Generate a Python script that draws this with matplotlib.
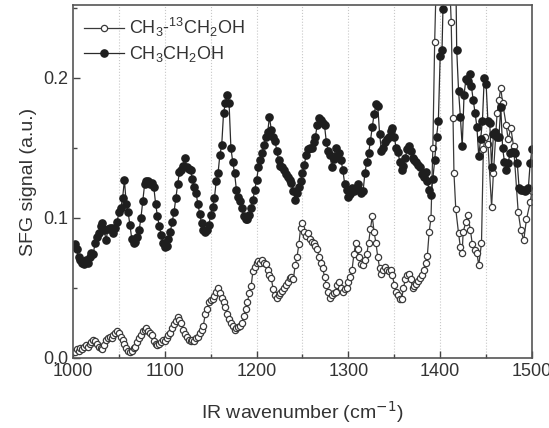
import numpy as np
import matplotlib
matplotlib.use("Agg")
import matplotlib.pyplot as plt
from matplotlib.ticker import MultipleLocator, FormatStrFormatter

plt.rcParams['font.family'] = ['Liberation Sans', 'DejaVu Sans']

# CH3CH2OH (filled circles), wavenumber in cm^-1
wn_12c = [1000, 1002, 1004, 1006, 1008, 1010, 1012, 1014, 1016, 1018, 1020, 1022, 1024, 1026, 1028,
          1030, 1032, 1034, 1036, 1038, 1040, 1042, 1044, 1046, 1048, 1050, 1052, 1054, 1056, 1058,
          1060, 1062, 1064, 1066, 1068, 1070, 1072, 1074, 1076, 1078, 1080, 1082, 1084, 1086, 1088,
          1090, 1092, 1094, 1096, 1098, 1100, 1102, 1104, 1106, 1108, 1110, 1112, 1114, 1116, 1118,
          1120, 1122, 1124, 1126, 1128, 1130, 1132, 1134, 1136, 1138, 1140, 1142, 1144, 1146, 1148,
          1150, 1152, 1154, 1156, 1158, 1160, 1162, 1164, 1166, 1168, 1170, 1172, 1174, 1176, 1178,
          1180, 1182, 1184, 1186, 1188, 1190, 1192, 1194, 1196, 1198, 1200, 1202, 1204, 1206, 1208,
          1210, 1212, 1214, 1216, 1218, 1220, 1222, 1224, 1226, 1228, 1230, 1232, 1234, 1236, 1238,
          1240, 1242, 1244, 1246, 1248, 1250, 1252, 1254, 1256, 1258, 1260, 1262, 1264, 1266, 1268,
          1270, 1272, 1274, 1276, 1278, 1280, 1282, 1284, 1286, 1288, 1290, 1292, 1294, 1296, 1298,
          1300, 1302, 1304, 1306, 1308, 1310, 1312, 1314, 1316, 1318, 1320, 1322, 1324, 1326, 1328,
          1330, 1332, 1334, 1336, 1338, 1340, 1342, 1344, 1346, 1348, 1350, 1352, 1354, 1356, 1358,
          1360, 1362, 1364, 1366, 1368, 1370, 1372, 1374, 1376, 1378, 1380, 1382, 1384, 1386, 1388,
          1390, 1392, 1394, 1396, 1398, 1400, 1402, 1403, 1408, 1416, 1418, 1420, 1422, 1424, 1426,
          1428, 1430, 1432, 1434, 1436, 1438, 1440, 1442, 1444, 1446, 1448, 1450, 1452, 1454, 1456,
          1458, 1460, 1462, 1464, 1466, 1468, 1470, 1472, 1474, 1476, 1478, 1480, 1482, 1484, 1486,
          1488, 1490, 1492, 1494, 1496, 1498, 1500]
sig_12c = [0.080, 0.081, 0.078, 0.072, 0.070, 0.068, 0.067, 0.070, 0.068, 0.072, 0.075, 0.074, 0.082, 0.086, 0.089,
           0.094, 0.096, 0.091, 0.084, 0.092, 0.093, 0.093, 0.089, 0.093, 0.097, 0.104, 0.107, 0.114, 0.127, 0.110,
           0.104, 0.095, 0.085, 0.082, 0.083, 0.086, 0.091, 0.100, 0.112, 0.124, 0.126, 0.126, 0.124, 0.125, 0.122,
           0.110, 0.101, 0.094, 0.088, 0.082, 0.079, 0.080, 0.085, 0.090, 0.097, 0.104, 0.114, 0.124, 0.133, 0.134,
           0.137, 0.143, 0.136, 0.135, 0.134, 0.128, 0.122, 0.118, 0.110, 0.103, 0.096, 0.091, 0.090, 0.091, 0.095,
           0.102, 0.108, 0.114, 0.126, 0.132, 0.145, 0.152, 0.175, 0.182, 0.188, 0.182, 0.150, 0.140, 0.132, 0.120,
           0.115, 0.112, 0.107, 0.101, 0.099, 0.099, 0.102, 0.107, 0.113, 0.120, 0.127, 0.136, 0.141, 0.146, 0.152,
           0.158, 0.161, 0.172, 0.163, 0.158, 0.155, 0.148, 0.141, 0.137, 0.136, 0.134, 0.131, 0.129, 0.127, 0.125,
           0.119, 0.113, 0.118, 0.122, 0.126, 0.132, 0.138, 0.145, 0.149, 0.150, 0.150, 0.154, 0.158, 0.166, 0.171,
           0.170, 0.168, 0.166, 0.154, 0.148, 0.145, 0.136, 0.142, 0.150, 0.144, 0.146, 0.141, 0.134, 0.124, 0.120,
           0.115, 0.117, 0.121, 0.119, 0.121, 0.124, 0.120, 0.118, 0.119, 0.132, 0.140, 0.146, 0.155, 0.165, 0.174,
           0.181, 0.180, 0.160, 0.148, 0.150, 0.154, 0.156, 0.158, 0.162, 0.164, 0.158, 0.150, 0.147, 0.140, 0.134,
           0.137, 0.143, 0.149, 0.151, 0.148, 0.143, 0.141, 0.140, 0.138, 0.136, 0.131, 0.129, 0.133, 0.126, 0.120,
           0.116, 0.128, 0.141, 0.158, 0.169, 0.216, 0.220, 0.249, 0.320, 0.330, 0.220, 0.191, 0.172, 0.151, 0.188,
           0.199, 0.198, 0.203, 0.194, 0.184, 0.175, 0.165, 0.144, 0.156, 0.169, 0.200, 0.196, 0.169, 0.168, 0.136,
           0.160, 0.161, 0.158, 0.158, 0.179, 0.150, 0.140, 0.134, 0.139, 0.146, 0.147, 0.147, 0.146, 0.139, 0.121,
           0.120, 0.120, 0.119, 0.120, 0.121, 0.139, 0.149]

# CH3-13CH2OH (open circles)
wn_13c = [1000, 1002, 1004, 1006, 1008, 1010, 1012, 1014, 1016, 1018, 1020, 1022, 1024, 1026, 1028,
          1030, 1032, 1034, 1036, 1038, 1040, 1042, 1044, 1046, 1048, 1050, 1052, 1054, 1056, 1058,
          1060, 1062, 1064, 1066, 1068, 1070, 1072, 1074, 1076, 1078, 1080, 1082, 1084, 1086, 1088,
          1090, 1092, 1094, 1096, 1098, 1100, 1102, 1104, 1106, 1108, 1110, 1112, 1114, 1116, 1118,
          1120, 1122, 1124, 1126, 1128, 1130, 1132, 1134, 1136, 1138, 1140, 1142, 1144, 1146, 1148,
          1150, 1152, 1154, 1156, 1158, 1160, 1162, 1164, 1166, 1168, 1170, 1172, 1174, 1176, 1178,
          1180, 1182, 1184, 1186, 1188, 1190, 1192, 1194, 1196, 1198, 1200, 1202, 1204, 1206, 1208,
          1210, 1212, 1214, 1216, 1218, 1220, 1222, 1224, 1226, 1228, 1230, 1232, 1234, 1236, 1238,
          1240, 1242, 1244, 1246, 1248, 1250, 1252, 1254, 1256, 1258, 1260, 1262, 1264, 1266, 1268,
          1270, 1272, 1274, 1276, 1278, 1280, 1282, 1284, 1286, 1288, 1290, 1292, 1294, 1296, 1298,
          1300, 1302, 1304, 1306, 1308, 1310, 1312, 1314, 1316, 1318, 1320, 1322, 1324, 1326, 1328,
          1330, 1332, 1334, 1336, 1338, 1340, 1342, 1344, 1346, 1348, 1350, 1352, 1354, 1356, 1358,
          1360, 1362, 1364, 1366, 1368, 1370, 1372, 1374, 1376, 1378, 1380, 1382, 1384, 1386, 1388,
          1390, 1392, 1394, 1398, 1406, 1412, 1414, 1415, 1417, 1420, 1422, 1424, 1425, 1428, 1430,
          1433, 1435, 1438, 1440, 1442, 1445, 1447, 1449, 1452, 1456, 1458, 1462, 1464, 1466, 1468,
          1472, 1474, 1477, 1480, 1485, 1488, 1491, 1494, 1498, 1500]
sig_13c = [0.004, 0.004, 0.006, 0.005, 0.007, 0.006, 0.008, 0.009, 0.008, 0.010, 0.011, 0.013, 0.012, 0.010, 0.008,
           0.007, 0.006, 0.009, 0.013, 0.014, 0.015, 0.014, 0.016, 0.018, 0.019, 0.018, 0.015, 0.013, 0.010, 0.007,
           0.005, 0.004, 0.005, 0.007, 0.008, 0.011, 0.014, 0.016, 0.019, 0.020, 0.021, 0.019, 0.018, 0.016, 0.012,
           0.010, 0.009, 0.010, 0.011, 0.013, 0.012, 0.014, 0.016, 0.018, 0.021, 0.024, 0.026, 0.029, 0.027, 0.025,
           0.020, 0.017, 0.015, 0.013, 0.012, 0.013, 0.012, 0.014, 0.015, 0.018, 0.020, 0.023, 0.031, 0.035, 0.040,
           0.041, 0.042, 0.044, 0.047, 0.050, 0.046, 0.043, 0.040, 0.036, 0.031, 0.028, 0.025, 0.023, 0.020, 0.021,
           0.022, 0.023, 0.025, 0.030, 0.035, 0.040, 0.046, 0.051, 0.062, 0.065, 0.068, 0.069, 0.068, 0.070, 0.068,
           0.067, 0.063, 0.059, 0.057, 0.049, 0.045, 0.043, 0.045, 0.046, 0.048, 0.050, 0.052, 0.054, 0.057, 0.058,
           0.056, 0.066, 0.072, 0.081, 0.093, 0.096, 0.090, 0.087, 0.089, 0.085, 0.083, 0.082, 0.080, 0.078, 0.072,
           0.068, 0.064, 0.058, 0.052, 0.047, 0.043, 0.045, 0.046, 0.047, 0.052, 0.054, 0.050, 0.047, 0.049, 0.050,
           0.054, 0.058, 0.063, 0.074, 0.082, 0.078, 0.072, 0.067, 0.066, 0.070, 0.074, 0.082, 0.092, 0.101, 0.090,
           0.082, 0.072, 0.064, 0.060, 0.063, 0.065, 0.063, 0.062, 0.063, 0.059, 0.052, 0.047, 0.045, 0.042, 0.042,
           0.050, 0.056, 0.059, 0.060, 0.056, 0.050, 0.051, 0.053, 0.055, 0.057, 0.059, 0.063, 0.068, 0.073, 0.090,
           0.100, 0.150, 0.226, 0.330, 0.340, 0.240, 0.171, 0.132, 0.106, 0.089, 0.079, 0.075, 0.090, 0.097, 0.102,
           0.091, 0.081, 0.077, 0.075, 0.066, 0.082, 0.149, 0.158, 0.153, 0.108, 0.132, 0.175, 0.184, 0.193, 0.182,
           0.166, 0.156, 0.164, 0.151, 0.104, 0.091, 0.084, 0.099, 0.111, 0.119]

label_13c = r'$\mathregular{CH_3}$-$\mathregular{^{13}CH_2OH}$'
label_12c = r'$\mathregular{CH_3CH_2OH}$'

fig = plt.figure(figsize=(5.49, 4.28), dpi=100)
ax = fig.add_axes([0.133, 0.164, 0.836, 0.824])

dark = '#2b2b2b'
for x in np.arange(1050, 1500, 50):
    ax.axvline(x, color='#c8c8c8', lw=0.8, ls=':', zorder=0)

ax.plot(wn_13c, sig_13c, '-o', color='#3a3a3a', lw=0.9, ms=4.5, mfc='white', mec='#3a3a3a', mew=0.9,
        label=label_13c)
ax.plot(wn_12c, sig_12c, '-o', color=dark, lw=0.9, ms=5.2, mfc='#1e1e1e', mec='#1e1e1e',
        label=label_12c)

ax.set_xlim(1000, 1500)
ax.set_ylim(0, 0.252)
ax.xaxis.set_major_locator(MultipleLocator(100))
ax.xaxis.set_minor_locator(MultipleLocator(50))
ax.yaxis.set_major_locator(MultipleLocator(0.1))
ax.yaxis.set_minor_locator(MultipleLocator(0.05))
ax.yaxis.set_major_formatter(FormatStrFormatter('%.1f'))
ax.tick_params(which='both', direction='in', top=False, right=False, colors='#444444',
               labelcolor='#333333', labelsize=13)
ax.tick_params(which='major', length=5, width=1)
ax.tick_params(which='minor', length=3, width=1)
for s in ax.spines.values():
    s.set_color('#555555')
    s.set_linewidth(1.2)

ax.set_xlabel('IR wavenumber (cm$^{-1}$)', fontsize=14, color='#333333', labelpad=14)
ax.set_ylabel('SFG signal (a.u.)', fontsize=14, color='#333333', labelpad=4)

leg = ax.legend(loc='upper left', frameon=False, fontsize=13, handlelength=2.2, handletextpad=0.3,
                borderaxespad=0.2, labelspacing=0.3)
for t in leg.get_texts():
    t.set_color('#333333')

fig.savefig('out.png', dpi=100)
